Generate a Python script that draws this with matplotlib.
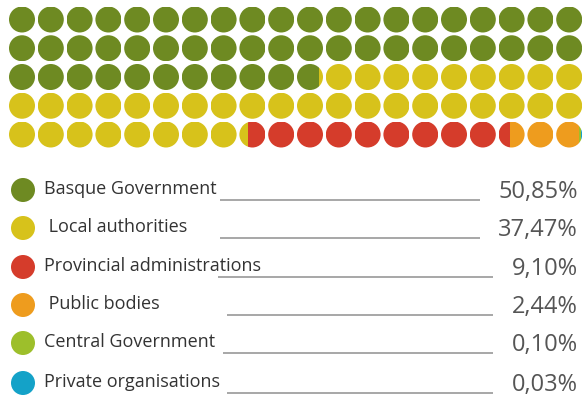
import numpy as np
import matplotlib
matplotlib.use("Agg")
import matplotlib.pyplot as plt
from matplotlib.patches import Circle, Rectangle

# data
labels = ["Basque Government", " Local authorities", "Provincial administrations",
          " Public bodies", "Central Government", "Private organisations"]
values = [50.85, 37.47, 9.10, 2.44, 0.10, 0.03]
value_text = ["50,85%", "37,47%", "9,10%", "2,44%", "0,10%", "0,03%"]
colors = ["#6e8a22", "#d7c21b", "#d53c2b", "#ee9c1e", "#9dbf2b", "#14a2c8"]

n_rows, n_cols = 5, 20

fig = plt.figure(figsize=(5.82, 3.98), dpi=100)
ax = fig.add_axes([0, 0, 1, 1])
ax.set_xlim(0, 582)
ax.set_ylim(398, 0)
ax.axis("off")

# waffle: each dot is 1%, filled left to right in vertical strips
x0, y0, dx, dy, r = 22, 19.5, 28.8, 28.75, 13
bounds = np.concatenate([[0], np.cumsum(values)])
for k in range(n_rows * n_cols):
    row, col = divmod(k, n_cols)
    cx, cy = x0 + col * dx, y0 + row * dy
    clip = Circle((cx, cy), r, transform=ax.transData)
    for i in range(len(values)):
        a = max(bounds[i], k)
        b = min(bounds[i + 1], k + 1)
        if b <= a:
            continue
        rect = Rectangle((cx - r + (a - k) * 2 * r, cy - r), (b - a) * 2 * r, 2 * r,
                         facecolor=colors[i], edgecolor="none")
        ax.add_patch(rect)
        rect.set_clip_path(clip)

# legend rows
leg_y = [190, 228, 267, 305, 343, 383]
line_start = [220, 220, 218, 227, 223, 227]
line_end = [480, 480, 493, 493, 493, 493]
for i in range(len(labels)):
    y = leg_y[i]
    ax.add_patch(Circle((23, y), 12, facecolor=colors[i], edgecolor="none"))
    ax.text(44, y - 1, labels[i], fontsize=13, family="Open Sans", color="#333333",
            va="center", ha="left")
    ax.plot([line_start[i], line_end[i]], [y + 10, y + 10], color="#8f8f8f", lw=1.1,
            solid_capstyle="butt")
    ax.text(578, y + 2, value_text[i], fontsize=17, family="Open Sans", weight=500,
            color="#555555", va="center", ha="right")

fig.savefig("out.png", dpi=100, facecolor="white")
